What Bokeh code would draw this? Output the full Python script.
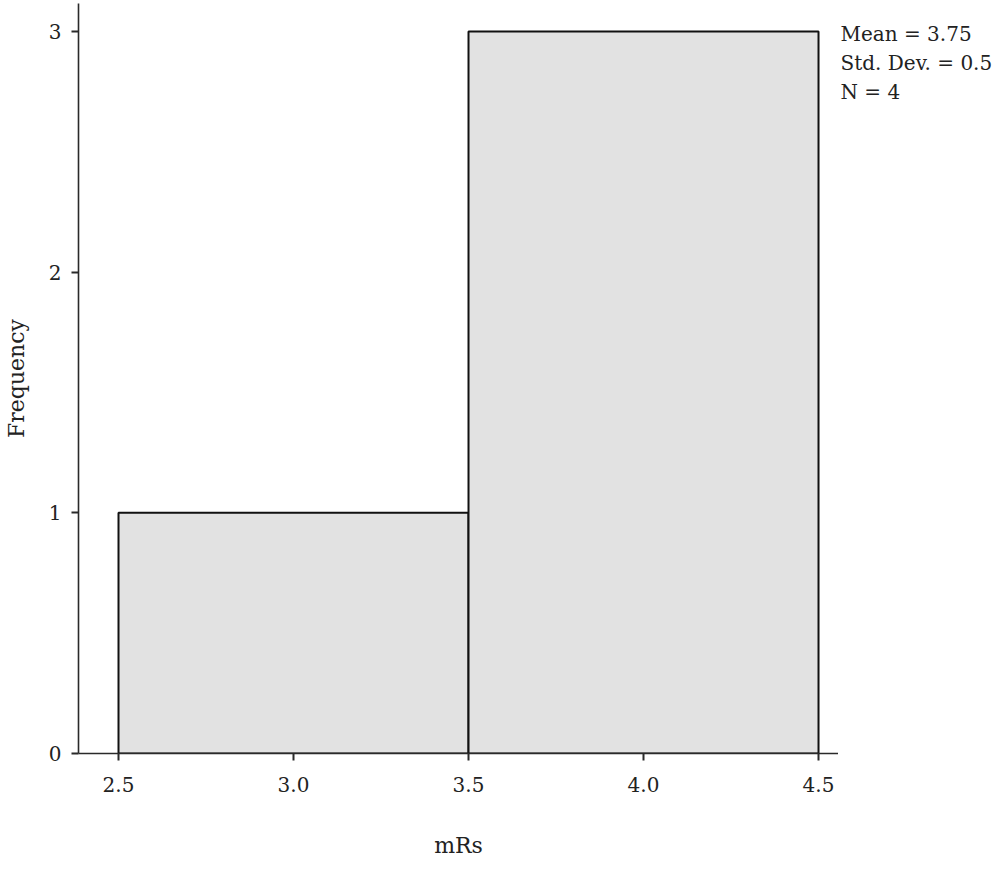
from bokeh.plotting import figure
from bokeh.models import Range1d, FixedTicker
from bokeh.layouts import row
from bokeh.core.properties import value
from bokeh.embed import file_html
from bokeh.resources import INLINE

# data
values = [3, 4, 4, 4]
bin_edges = [2.5, 3.5, 4.5]
counts = [1, 3]
x_ticks = [2.5, 3.0, 3.5, 4.0, 4.5]
y_ticks = [0, 1, 2, 3]
stats_lines = ["Mean = 3.75", "Std. Dev. = 0.5", "N = 4"]

FONT = "DejaVu Serif"
AX = "#2a2a2a"
H = 860

p = figure(width=838, height=H, output_backend="svg", toolbar_location=None,
           x_range=Range1d(2.3857, 4.5571), y_range=Range1d(0, 3.1163),
           min_border_left=78, min_border_right=0, min_border_top=3, min_border_bottom=107)
p.outline_line_color = None
p.grid.visible = False

p.quad(left=bin_edges[:-1], right=bin_edges[1:], bottom=0, top=counts,
       fill_color="#e2e2e2", line_color="#111111", line_width=2)

for ax in (p.xaxis[0], p.yaxis[0]):
    ax.axis_line_color = AX
    ax.axis_line_width = 1.6
    ax.major_tick_line_color = AX
    ax.major_tick_line_width = 2
    ax.major_tick_out = 7
    ax.major_tick_in = 0
    ax.minor_tick_line_color = None
    ax.major_label_text_font = FONT
    ax.major_label_text_font_size = "20px"
    ax.major_label_text_color = "#222222"
    ax.axis_label_text_font = FONT
    ax.axis_label_text_font_size = "22px"
    ax.axis_label_text_font_style = "normal"
    ax.axis_label_text_color = "#222222"

p.xaxis.ticker = FixedTicker(ticks=x_ticks)
p.yaxis.ticker = FixedTicker(ticks=y_ticks)
p.xaxis.major_label_overrides = {v: f"{v:.1f}" for v in x_ticks}
p.xaxis.major_label_standoff = 16
p.yaxis.major_label_standoff = 10
p.xaxis.axis_label = "mRs"
p.yaxis.axis_label = "Frequency"
p.xaxis.axis_label_standoff = 38
p.yaxis.axis_label_standoff = 17

# stats panel to the right
s = figure(width=154, height=H, output_backend="svg", toolbar_location=None,
           x_range=Range1d(0, 154), y_range=Range1d((H - 35) / 33.5, -35 / 33.5),
           min_border=0)
s.axis.visible = False
s.grid.visible = False
s.outline_line_color = None
s.text(x=[2] * len(stats_lines), y=list(range(len(stats_lines))), text=stats_lines,
       text_font=value(FONT), text_font_size="20px", text_color="#222222",
       text_baseline="middle", text_align="left")

layout = row(p, s, spacing=0)
open("out.html", "w").write(file_html(layout, INLINE))
